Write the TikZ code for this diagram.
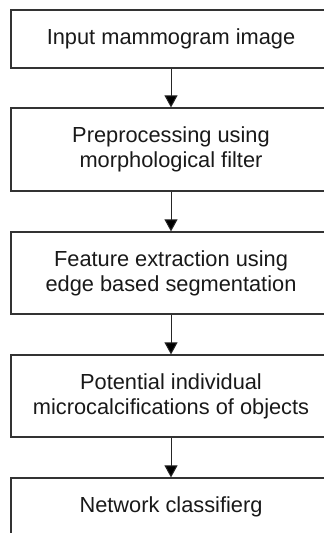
\documentclass[tikz,border=0pt]{standalone}
\usepackage{fontspec}
\setmainfont{Liberation Sans}
\usepackage{xcolor}
\usepackage{tikz}
\usetikzlibrary{arrows.meta}

\tikzset{
  procbox/.style = {rectangle, draw = black!80, line width = 0.6pt, minimum width = 160pt,
                    inner sep = 0pt, align = center, text = black!90,
                    font = \fontsize{10.9}{12.6}\selectfont},
  flow/.style = {draw = black!85, line width = 0.5pt, -{Triangle[width = 6.5pt, length = 6pt]}}
}

\begin{document}
\begin{tikzpicture}[x = 0.5pt, y = -0.5pt]
        \clip (0, 0) rectangle (324, 533);
        \node (1) at (171, 39) [procbox, minimum height = 29pt] {Input mammogram image};
        \node (2) at (171, 149.5) [procbox, minimum height = 41.5pt] {Preprocessing using\\morphological filter};
        \node (3) at (171, 273) [procbox, minimum height = 41pt] {Feature extraction using\\edge based segmentation};
        \node (4) at (171, 396) [procbox, minimum height = 41pt] {Potential individual\\microcalcifications of objects};
        \node (5) at (171, 507) [procbox, minimum height = 29pt] {Network classifierg};
        \draw [flow] (1) edge (2);
        \draw [flow] (2) edge (3);
        \draw [flow] (3) edge (4);
        \draw [flow] (4) edge (5);
    \end{tikzpicture}
\end{document}
